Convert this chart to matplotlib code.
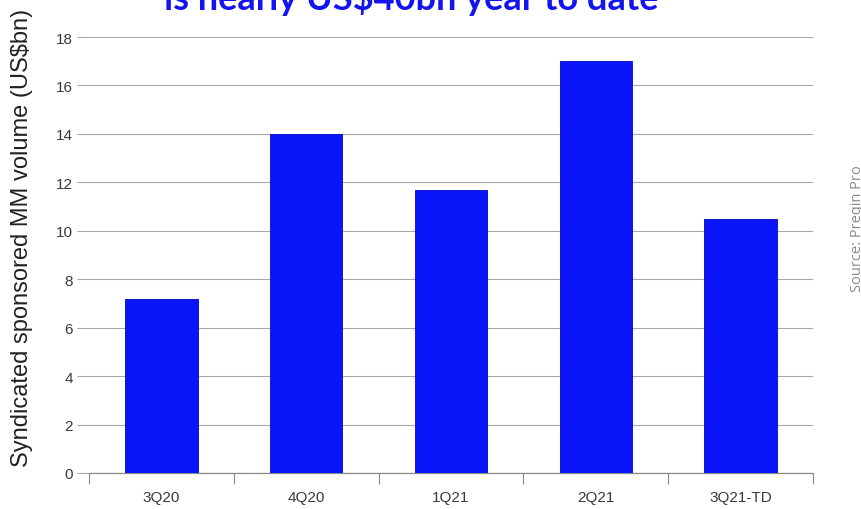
import matplotlib.pyplot as plt
import numpy as np

# Daten
quarters = ['3Q20', '4Q20', '1Q21', '2Q21', '3Q21-TD']
volumes = [7.2, 14.0, 11.7, 17.0, 10.5]
y_ticks = [0, 2, 4, 6, 8, 10, 12, 14, 16, 18]

bar_color = '#0a14f8'
grid_color = '#a8a8a8'
text_color = '#3a3a3a'

fig = plt.figure(figsize=(8.62, 5.10), dpi=100)
ax = fig.add_axes([89 / 862, 36 / 510, 724 / 862, 436 / 510])

x = np.arange(len(quarters))
ax.bar(x, volumes, width=0.5, color=bar_color, edgecolor='#0008c8', linewidth=0.6, zorder=3)

ax.set_xlim(-0.5, len(quarters) - 0.5)
ax.set_ylim(0, 18)
ax.set_yticks(y_ticks)
ax.set_yticklabels([str(v) for v in y_ticks], fontsize=11, color=text_color,
                   family='Liberation Sans')

# Kategorien-Labels mittig, Trennstriche an den Grenzen
ax.set_xticks(x)
ax.set_xticklabels(quarters, fontsize=11, color=text_color, family='Liberation Sans')
ax.tick_params(axis='x', which='major', length=0, pad=12)
ax.set_xticks(np.arange(len(quarters) + 1) - 0.5, minor=True)
ax.tick_params(axis='x', which='minor', length=8, width=0.8, color='#8a8a8a', direction='out')
ax.tick_params(axis='y', length=8.5, width=0.8, color=grid_color, pad=3)

ax.grid(axis='y', color=grid_color, linewidth=0.8, zorder=0)
for side in ['left', 'right', 'top']:
    ax.spines[side].set_visible(False)
ax.spines['bottom'].set_color('#8a8a8a')
ax.spines['bottom'].set_linewidth(0.9)

fig.text(22 / 862, 1 - 238 / 510, 'Syndicated sponsored MM volume (US$bn)', rotation=90,
         ha='center', va='center', fontsize=17, color='#222222', family='Liberation Sans')

# Titel (oben abgeschnitten)
fig.text(411 / 862, 1 - 10 / 510, 'is nearly US$40bn year to date', ha='center', va='baseline',
         fontsize=26, fontweight='bold', color='#1414f0', family='Lato')

fig.text(858 / 862, 1 - 292 / 510, 'Source: Preqin Pro', rotation=90, ha='center', va='bottom',
         fontsize=10.5, color='#8a8a8a', family='Open Sans')

fig.savefig('out.png', dpi=100)
